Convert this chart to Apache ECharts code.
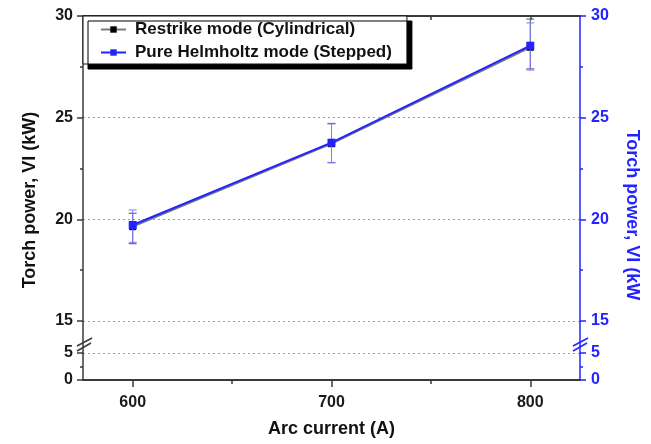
<!DOCTYPE html>
<html>
<head>
<meta charset="utf-8">
<script src="https://cdn.jsdelivr.net/npm/echarts@6/dist/echarts.min.js"></script>
<style>
  html, body { margin: 0; padding: 0; background: #fff; }
  #chart { width: 651px; height: 444px; }
</style>
</head>
<body>
<div id="chart"></div>
<script>
// Arc current (A)
var arcCurrent = [600, 700, 800];

// Restrike mode (Cylindrical): torch power and error range (kW)
var restrikePower = [19.64, 23.72, 28.46];
var restrikeLow   = [18.80, 22.78, 27.40];
var restrikeHigh  = [20.30, 24.72, 29.85];

// Pure Helmholtz mode (Stepped): torch power and error range (kW)
var helmholtzPower = [19.72, 23.77, 28.54];
var helmholtzLow   = [18.87, 22.80, 27.34];
var helmholtzHigh  = [20.46, 24.69, 29.66];

// Axis ticks
var xTickValues = [600, 700, 800];
var xMinorTickValues = [650, 750];
var xTopTickValues = [600, 650, 700, 750, 800];

var FONT = '"Liberation Sans", Arial, sans-serif';
var BLUE = '#2323ff';
var DARK = '#3a3a3a';

var chart = echarts.init(document.getElementById('chart'), null, { renderer: 'canvas' });

function pairs(xs, ys) {
  return xs.map(function (x, i) { return [x, ys[i]]; });
}
function triples(xs, lo, hi) {
  return xs.map(function (x, i) { return [x, lo[i], hi[i]]; });
}

function errorBarRenderer(color) {
  return function (params, api) {
    var x = api.value(0);
    var lo = api.coord([x, api.value(1)]);
    var hi = api.coord([x, api.value(2)]);
    var half = 4;
    var style = { stroke: color, lineWidth: 1 };
    return {
      type: 'group',
      children: [
        { type: 'line', shape: { x1: lo[0], y1: lo[1], x2: hi[0], y2: hi[1] }, style: style },
        { type: 'line', shape: { x1: hi[0] - half, y1: hi[1], x2: hi[0] + half, y2: hi[1] }, style: style },
        { type: 'line', shape: { x1: lo[0] - half, y1: lo[1], x2: lo[0] + half, y2: lo[1] }, style: style }
      ]
    };
  };
}

var tickLabelStyle = { fontFamily: FONT, fontWeight: 'bold', fontSize: 16 };
var dotted = { show: true, lineStyle: { color: '#9c9c9c', width: 1, type: [2, 3] } };

function yAxisDef(grid, side, min, max) {
  var color = side === 'left' ? DARK : BLUE;
  var labelColor = side === 'left' ? '#1a1a1a' : BLUE;
  return {
    gridIndex: grid,
    type: 'value',
    position: side,
    min: min,
    max: max,
    interval: 5,
    axisLine: { show: true, onZero: false, lineStyle: { color: color, width: 1.5 } },
    axisTick: { show: true, length: 6, lineStyle: { color: color, width: 1.5 } },
    minorTick: { show: true, splitNumber: 2, length: 3, lineStyle: { color: color, width: 1.5 } },
    axisLabel: Object.assign({ color: labelColor, margin: side === 'left' ? 10 : 11 }, tickLabelStyle),
    splitLine: side === 'left' ? dotted : { show: false }
  };
}

var option = {
  backgroundColor: '#ffffff',
  animation: false,
  grid: [
    { left: 83, top: 16, width: 497, height: 305 },
    { left: 83, top: 353, width: 497, height: 27 }
  ],
  legend: {
    orient: 'vertical',
    left: 83,
    top: 16,
    data: ['Restrike mode (Cylindrical)', 'Pure Helmholtz mode (Stepped)'],
    itemWidth: 25,
    itemHeight: 8,
    itemGap: 6,
    padding: [5, 15, 3, 17],
    backgroundColor: '#ffffff',
    borderColor: '#111',
    borderWidth: 1,
    borderRadius: 0,
    shadowColor: '#000000',
    shadowBlur: 0,
    shadowOffsetX: 5,
    shadowOffsetY: 5,
    textStyle: { fontFamily: FONT, fontWeight: 'bold', fontSize: 17, color: '#111', padding: [0, 0, 0, 4] }
  },
  xAxis: [
    {
      gridIndex: 0, type: 'value', position: 'top', min: 575, max: 825,
      axisLine: { show: true, onZero: false, lineStyle: { color: DARK, width: 2 } },
      axisTick: { show: true, inside: true, length: 4, customValues: xTopTickValues, lineStyle: { color: DARK, width: 1.5 } },
      axisLabel: { show: false },
      splitLine: { show: false }
    },
    {
      gridIndex: 1, type: 'value', position: 'bottom', min: 575, max: 825,
      name: 'Arc current (A)',
      nameLocation: 'middle',
      nameGap: 40,
      nameTextStyle: { fontFamily: FONT, fontWeight: 'bold', fontSize: 18, color: '#111' },
      axisLine: { show: true, onZero: false, lineStyle: { color: DARK, width: 2 } },
      axisTick: { show: true, length: 7, customValues: xTickValues, lineStyle: { color: DARK, width: 1.5 } },
      axisLabel: Object.assign({ color: '#1a1a1a', margin: 15, customValues: xTickValues }, tickLabelStyle),
      splitLine: { show: false }
    },
    {
      gridIndex: 1, type: 'value', position: 'bottom', min: 575, max: 825,
      axisLine: { show: false },
      axisTick: { show: true, length: 4, customValues: xMinorTickValues, lineStyle: { color: DARK, width: 1.5 } },
      axisLabel: { show: false },
      splitLine: { show: false }
    }
  ],
  yAxis: [
    yAxisDef(0, 'left', 15, 30),
    yAxisDef(0, 'right', 15, 30),
    yAxisDef(1, 'left', 0, 5),
    yAxisDef(1, 'right', 0, 5)
  ],
  graphic: [
    // axis lines bridging the break between 5 and 15
    { type: 'line', shape: { x1: 83, y1: 321, x2: 83, y2: 353 }, style: { stroke: DARK, lineWidth: 1.5 }, z: 5 },
    { type: 'line', shape: { x1: 580, y1: 321, x2: 580, y2: 353 }, style: { stroke: BLUE, lineWidth: 1.5 }, z: 5 },
    // break marks
    { type: 'line', shape: { x1: 77, y1: 346, x2: 92, y2: 338 }, style: { stroke: DARK, lineWidth: 1.5 }, z: 6 },
    { type: 'line', shape: { x1: 77, y1: 351, x2: 91, y2: 343 }, style: { stroke: DARK, lineWidth: 1.5 }, z: 6 },
    { type: 'line', shape: { x1: 573, y1: 346, x2: 588, y2: 338 }, style: { stroke: BLUE, lineWidth: 1.5 }, z: 6 },
    { type: 'line', shape: { x1: 573, y1: 351, x2: 587, y2: 343 }, style: { stroke: BLUE, lineWidth: 1.5 }, z: 6 },
    // y axis titles
    {
      type: 'text', x: 30, y: 200, rotation: Math.PI / 2,
      style: { text: 'Torch power, VI (kW)', fill: '#111', font: 'bold 18px ' + FONT, align: 'center', verticalAlign: 'middle' }
    },
    {
      type: 'text', x: 632, y: 215, rotation: -Math.PI / 2,
      style: { text: 'Torch power, VI (kW', fill: BLUE, font: 'bold 18px ' + FONT, align: 'center', verticalAlign: 'middle' }
    }
  ],
  series: [
    {
      name: 'Restrike mode (Cylindrical)',
      type: 'line',
      xAxisIndex: 0, yAxisIndex: 0,
      data: pairs(arcCurrent, restrikePower),
      symbol: 'rect', symbolSize: 7,
      lineStyle: { color: '#7a7a7a', width: 2 },
      itemStyle: { color: '#000000' },
      z: 3
    },
    {
      name: 'restrike error',
      type: 'custom',
      xAxisIndex: 0, yAxisIndex: 0,
      data: triples(arcCurrent, restrikeLow, restrikeHigh),
      renderItem: errorBarRenderer('#555555'),
      z: 2
    },
    {
      name: 'Pure Helmholtz mode (Stepped)',
      type: 'line',
      xAxisIndex: 0, yAxisIndex: 0,
      data: pairs(arcCurrent, helmholtzPower),
      symbol: 'rect', symbolSize: 8,
      lineStyle: { color: BLUE, width: 2 },
      itemStyle: { color: BLUE },
      z: 5
    },
    {
      name: 'helmholtz error',
      type: 'custom',
      xAxisIndex: 0, yAxisIndex: 0,
      data: triples(arcCurrent, helmholtzLow, helmholtzHigh),
      renderItem: errorBarRenderer('#7b7bff'),
      z: 4
    }
  ]
};

chart.setOption(option);
</script>
</body>
</html>
